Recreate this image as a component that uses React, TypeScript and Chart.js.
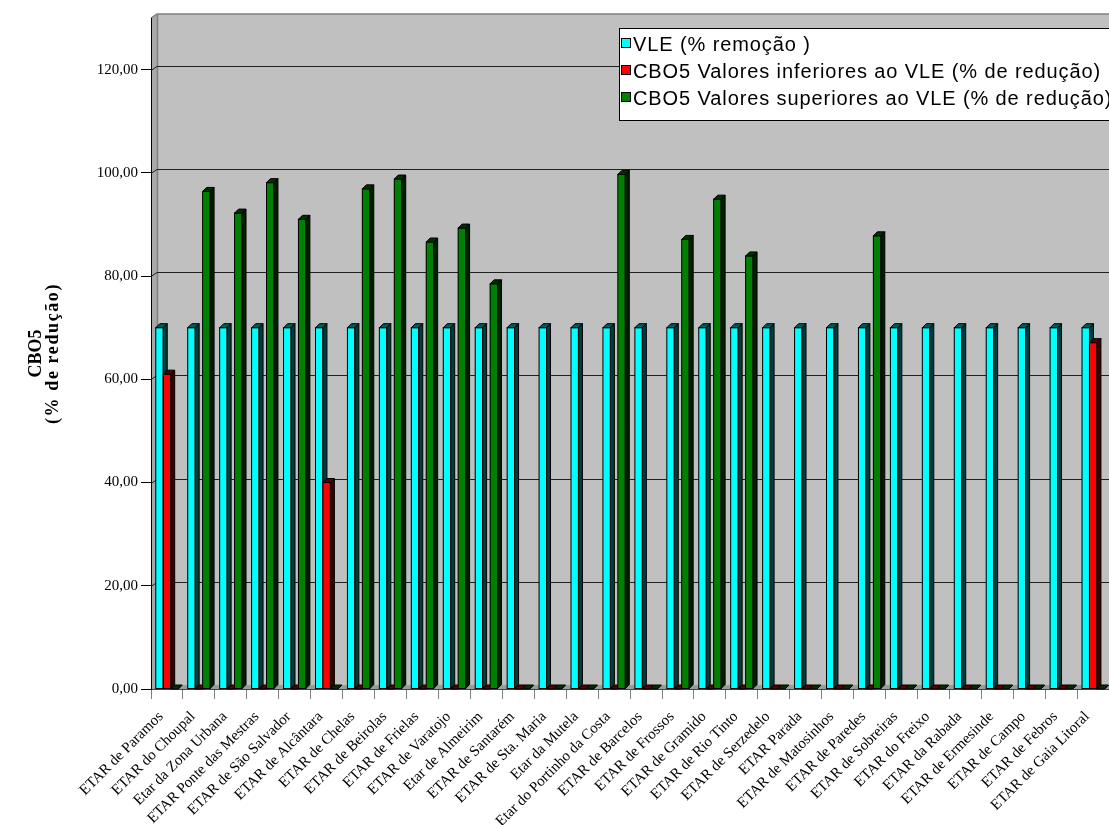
import React, { useEffect, useRef } from 'react';
import { Chart, registerables } from 'chart.js';

Chart.register(...registerables);

const categories = [
  'ETAR de Paramos', 'ETAR do Choupal', 'Etar da Zona Urbana', 'ETAR Ponte das Mestras',
  'ETAR de São Salvador', 'ETAR de Alcântara', 'ETAR de Chelas', 'ETAR de Beirolas',
  'ETAR de Frielas', 'ETAR de Varatojo', 'Etar de Almeirim', 'ETAR de Santarém',
  'ETAR de Sta. Maria', 'Etar da Mutela', 'Etar do Portinho da Costa', 'ETAR de Barcelos',
  'ETAR de Frossos', 'ETAR de Gramido', 'ETAR de Rio Tinto', 'ETAR de Serzedelo',
  'ETAR Parada', 'ETAR de Matosinhos', 'ETAR de Paredes', 'ETAR de Sobreiras',
  'ETAR do Freixo', 'ETAR da Rabada', 'ETAR de Ermesinde', 'ETAR de Campo',
  'ETAR de Febros', 'ETAR de Gaia Litoral',
];

const vleValues = [
  70, 70, 70, 70, 70, 70, 70, 70, 70, 70,
  70, 70, 70, 70, 70, 70, 70, 70, 70, 70,
  70, 70, 70, 70, 70, 70, 70, 70, 70, 70,
];

const inferiorValues = [
  61, 0, 0, 0, 0, 40, 0, 0, 0, 0,
  0, 0, 0, 0, 0, 0, 0, 0, 0, 0,
  0, 0, 0, 0, 0, 0, 0, 0, 0, 67.1,
];

const superiorValues = [
  0, 96.4, 92.2, 98.1, 91.0, 0, 96.9, 98.8, 86.6, 89.3,
  78.5, 0, 0, 0, 99.7, 0, 87.1, 94.9, 83.9, 0,
  0, 0, 87.8, 0, 0, 0, 0, 0, 0, 0,
];

const yTicks = [0, 20, 40, 60, 80, 100, 120];
const seriesNames = [
  'VLE (% remoção )',
  'CBO5 Valores inferiores ao VLE (% de redução)',
  'CBO5 Valores superiores ao VLE (% de redução)',
];
const yTitleLines = ['CBO5', '(% de redução)'];

const seriesColors = [
  { front: '#00FFFF', side: '#003c3c', top: '#005a5a' },
  { front: '#FF0000', side: '#3c0000', top: '#5a0000' },
  { front: '#008000', side: '#001e00', top: '#003000' },
];

const DEPTH = 4;
const WALL_DX = 6;
const WALL_DY = 4;
const SERIF = '"Liberation Serif", "Times New Roman", serif';
const SANS = '"Liberation Sans", Arial, sans-serif';

const wallPlugin = {
  id: 'wall3d',
  beforeDraw(chart: any) {
    const { ctx, chartArea } = chart;
    const { left, right, top, bottom } = chartArea;
    const y = chart.scales.y;
    ctx.save();
    ctx.fillStyle = '#A8A8A8';
    ctx.beginPath();
    ctx.moveTo(left, top);
    ctx.lineTo(left + WALL_DX, top - WALL_DY);
    ctx.lineTo(left + WALL_DX, bottom - WALL_DY);
    ctx.lineTo(left, bottom);
    ctx.closePath();
    ctx.fill();
    ctx.fillStyle = '#C0C0C0';
    ctx.fillRect(left + WALL_DX, top - WALL_DY, right - left, bottom - top);
    ctx.strokeStyle = '#808080';
    ctx.lineWidth = 1.5;
    ctx.beginPath();
    ctx.moveTo(left, top);
    ctx.lineTo(left + WALL_DX, top - WALL_DY);
    ctx.lineTo(right + WALL_DX, top - WALL_DY);
    ctx.stroke();
    ctx.beginPath();
    ctx.moveTo(left + WALL_DX + 0.5, top - WALL_DY);
    ctx.lineTo(left + WALL_DX + 0.5, bottom - WALL_DY);
    ctx.stroke();
    ctx.fillStyle = '#9A9A9A';
    ctx.beginPath();
    ctx.moveTo(left, bottom);
    ctx.lineTo(left + WALL_DX, bottom - WALL_DY);
    ctx.lineTo(right + WALL_DX, bottom - WALL_DY);
    ctx.lineTo(right, bottom);
    ctx.closePath();
    ctx.fill();
    ctx.strokeStyle = '#202020';
    ctx.lineWidth = 1;
    yTicks.forEach((v) => {
      if (v === 0) return;
      const py = Math.round(y.getPixelForValue(v)) + 0.5;
      ctx.beginPath();
      ctx.moveTo(left, py);
      ctx.lineTo(left + WALL_DX, py - WALL_DY);
      ctx.lineTo(right + WALL_DX, py - WALL_DY);
      ctx.stroke();
    });
    ctx.restore();
  },
};

const bars3dPlugin = {
  id: 'bars3d',
  afterDatasetsDraw(chart: any) {
    const { ctx } = chart;
    const nSets = chart.data.datasets.length;
    ctx.save();
    ctx.lineWidth = 1;
    ctx.strokeStyle = '#000';
    for (let i = 0; i < categories.length; i++) {
      for (let d = 0; d < nSets; d++) {
        const meta = chart.getDatasetMeta(d);
        const el = meta.data[i];
        if (!el) continue;
        const { x, y, base, width } = el.getProps(['x', 'y', 'base', 'width'], true);
        const l = x - width / 2;
        const r = x + width / 2;
        const t = Math.min(y, base);
        const b = Math.max(y, base);
        const c = seriesColors[d];
        if (b - t > 0.5) {
          ctx.fillStyle = c.front;
          ctx.fillRect(l, t, width, b - t);
          ctx.strokeRect(l, t, width, b - t);
        }
        ctx.fillStyle = c.side;
        ctx.beginPath();
        ctx.moveTo(r, t);
        ctx.lineTo(r + DEPTH, t - DEPTH);
        ctx.lineTo(r + DEPTH, b - DEPTH);
        ctx.lineTo(r, b);
        ctx.closePath();
        ctx.fill();
        ctx.stroke();
        ctx.fillStyle = c.top;
        ctx.beginPath();
        ctx.moveTo(l, t);
        ctx.lineTo(l + DEPTH, t - DEPTH);
        ctx.lineTo(r + DEPTH, t - DEPTH);
        ctx.lineTo(r, t);
        ctx.closePath();
        ctx.fill();
        ctx.stroke();
      }
    }
    ctx.restore();
  },
};

const overlayPlugin = {
  id: 'overlay',
  afterDraw(chart: any) {
    const { ctx } = chart;
    ctx.save();
    const bx = 619.5;
    const by = 28.5;
    ctx.fillStyle = '#FFFFFF';
    ctx.fillRect(bx, by, 600, 92);
    ctx.strokeStyle = '#000';
    ctx.lineWidth = 1;
    ctx.strokeRect(bx, by, 600, 92);
    ctx.font = '20px ' + SANS;
    (ctx as any).letterSpacing = '0.9px';
    ctx.textBaseline = 'middle';
    ctx.textAlign = 'left';
    seriesNames.forEach((name, i) => {
      const cy = 44 + i * 27;
      ctx.fillStyle = seriesColors[i].front;
      ctx.fillRect(621.5, cy - 5.5, 9, 9);
      ctx.strokeStyle = '#000';
      ctx.strokeRect(621.5, cy - 5.5, 9, 9);
      ctx.fillStyle = '#000';
      ctx.fillText(name, 633, cy + 1);
    });
    (ctx as any).letterSpacing = '0px';
    const cyT = (chart.chartArea.top + chart.chartArea.bottom) / 2;
    const xs = [36, 53];
    const spacing = ['0px', '1.6px'];
    yTitleLines.forEach((line, i) => {
      ctx.save();
      ctx.translate(xs[i], cyT);
      ctx.rotate(-Math.PI / 2);
      ctx.font = 'bold 18px ' + SERIF;
      (ctx as any).letterSpacing = spacing[i];
      ctx.textAlign = 'center';
      ctx.textBaseline = 'middle';
      ctx.fillStyle = '#000';
      ctx.fillText(line, 0, 0);
      ctx.restore();
    });
    ctx.restore();
  },
};

export default function App() {
  const canvasRef = useRef<HTMLCanvasElement | null>(null);

  useEffect(() => {
    const canvas = canvasRef.current;
    if (!canvas) return;
    const chart = new Chart(canvas, {
      type: 'bar',
      data: {
        labels: categories,
        datasets: [
          { label: seriesNames[0], data: vleValues, backgroundColor: seriesColors[0].front, borderColor: '#000', borderWidth: 1 },
          { label: seriesNames[1], data: inferiorValues, backgroundColor: seriesColors[1].front, borderColor: '#000', borderWidth: 1 },
          { label: seriesNames[2], data: superiorValues, backgroundColor: seriesColors[2].front, borderColor: '#000', borderWidth: 1 },
        ],
      },
      options: {
        responsive: false,
        devicePixelRatio: 1,
        animation: false,
        categoryPercentage: 0.7,
        barPercentage: 1.0,
        layout: { padding: { top: 18, right: 4, left: 0, bottom: 0 } },
        plugins: {
          legend: { display: false },
          tooltip: { enabled: false },
        },
        scales: {
          x: {
            grid: { offset: true, drawOnChartArea: false, drawTicks: true, tickLength: 10, color: '#808080' },
            border: { display: true, color: '#404040' },
            ticks: {
              autoSkip: false,
              maxRotation: 45,
              minRotation: 45,
              color: '#000',
              padding: 9,
              labelOffset: -6,
              font: { family: SERIF, size: 15 },
            },
            afterFit: (s: any) => { s.height = 136; },
          },
          y: {
            min: 0,
            max: 130,
            grid: { drawOnChartArea: false, drawTicks: true, tickLength: 10, color: '#000' },
            border: { display: true, color: '#000' },
            ticks: {
              stepSize: 20,
              includeBounds: false,
              color: '#000',
              padding: 3,
              font: { family: SERIF, size: 15 },
              callback: (v: any) => Number(v).toFixed(2).replace('.', ','),
            },
            afterBuildTicks: (s: any) => { s.ticks = yTicks.map((v) => ({ value: v })); },
            afterFit: (s: any) => { s.width = 151; },
          },
        },
      } as any,
      plugins: [wallPlugin, bars3dPlugin, overlayPlugin],
    });
    return () => chart.destroy();
  }, []);

  return (
    <div style={{ position: 'absolute', left: 0, top: 0, width: 1109, height: 825, overflow: 'hidden', background: '#fff' }}>
      <canvas ref={canvasRef} width={1115} height={825} style={{ display: 'block', width: 1115, height: 825 }} />
    </div>
  );
}
